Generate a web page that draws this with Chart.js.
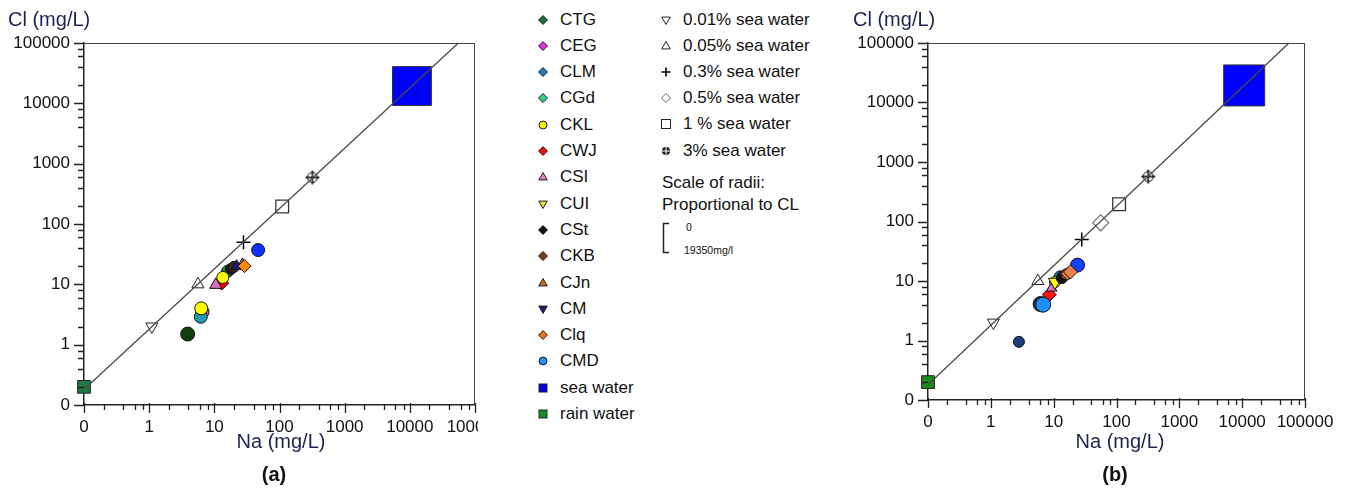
<!DOCTYPE html>
<html>
<head>
<meta charset="utf-8">
<script src="https://cdn.jsdelivr.net/npm/chart.js@4.4.1/dist/chart.umd.min.js"></script>
<style>
html,body{margin:0;padding:0;background:#fff;width:1351px;height:489px;overflow:hidden;font-family:"Liberation Sans",Arial,sans-serif;}
#wrapA{position:absolute;left:0;top:0;width:478px;height:489px;}
#wrapB{position:absolute;left:845px;top:0;width:506px;height:489px;}
.lgt{position:absolute;font-size:17px;line-height:20px;color:#111;white-space:nowrap;}
.lgs{position:absolute;}
.small{position:absolute;font-size:10.5px;line-height:12px;color:#111;white-space:nowrap;}
</style>
</head>
<body>
<div id="wrapA"><canvas id="chartA" width="478" height="489"></canvas></div>
<div id="legend"></div>
<div id="wrapB"><canvas id="chartB" width="506" height="489"></canvas></div>
<script>
// ---------------- DATA ----------------
const tickValues = [0.1, 1, 10, 100, 1000, 10000, 100000];
const tickLabels = ['0', '1', '10', '100', '1000', '10000', '100000'];
const minorTickSteps = [2, 4, 6, 8];

// sea-water mixing line (Cl/Na ~ 1.8)
const mixLineNa = [0.1, 55556];
const mixLineCl = [0.18, 100000];

// end members
const endNames = ['sea water', 'rain water'];
const endNa = [10770, 0.1];
const endCl = [19350, 0.2];

// sea-water dilutions
const refNames = ['0.01% sea water', '0.05% sea water', '0.3% sea water', '0.5% sea water', '1 % sea water', '3% sea water'];
const refNaA = [1.1, 5.6, 28, null, 110, 320];
const refClA = [2.0, 10, 50, null, 195, 590];
const refNaB = [1.1, 5.6, 28, 56, 110, 320];
const refClB = [2.0, 10, 50, 95, 195, 570];

// sample names (legend order)
const sampleNames = ['CTG', 'CEG', 'CLM', 'CGd', 'CKL', 'CWJ', 'CSI', 'CUI', 'CSt', 'CKB', 'CJn', 'CM', 'Clq', 'CMD'];
// panel (a)
const naA = [3.9, 6.6, 6.2, 16, 6.3, 13, 10.5, 13.5, 18, 20, 27, 22, 29, 47];
const clA = [1.5, 3.5, 2.9, 16.5, 4.0, 10.5, 9.8, 13, 18, 19.5, 21, 20, 20, 37];
// panel (b)
const naB = [6.2, 24, 12.6, 14, 10.5, 8.5, 9.3, 10.5, 13.5, 16, 16.5, 2.8, 18.5, 6.8];
const clB = [4.1, 18.5, 11.7, 12, 9.6, 5.9, 7.6, 9.6, 11.2, 13, 13.2, 0.95, 14.2, 4.0];

// ---------------- STYLES ----------------
const FONT = '"Liberation Sans", Arial, sans-serif';
const legendSampleStyle = {
  CTG: {shape: 'rectRot', fill: '#1e6e3c'}, CEG: {shape: 'rectRot', fill: '#e030e0'},
  CLM: {shape: 'rectRot', fill: '#2a78b8'}, CGd: {shape: 'rectRot', fill: '#30d080'},
  CKL: {shape: 'circle', fill: '#f0f000'}, CWJ: {shape: 'rectRot', fill: '#e01010'},
  CSI: {shape: 'triangle', fill: '#e080c0'}, CUI: {shape: 'triangleDown', fill: '#e8e040'},
  CSt: {shape: 'rectRot', fill: '#101010'}, CKB: {shape: 'rectRot', fill: '#7a3a10'},
  CJn: {shape: 'triangle', fill: '#c86a30'}, CM: {shape: 'triangleDown', fill: '#301070'},
  Clq: {shape: 'rectRot', fill: '#e87020'}, CMD: {shape: 'circle', fill: '#1e90ff'}
};
const styleA = {
  CTG: ['circle', '#0d400d', 7], CEG: ['circle', '#e040e0', 6.5], CLM: ['circle', '#1f9aa8', 6.5],
  CGd: ['circle', '#2e8b3a', 6], CKL: ['circle', '#ffff00', 6.5], CWJ: ['rectRot', '#ff0000', 7],
  CSI: ['triangle', '#d070c0', 7], CUI: ['circle', '#ffff00', 6], CSt: ['circle', '#1a1a1a', 5.5],
  CKB: ['circle', '#3a2a10', 5.5], CJn: ['triangle', '#d07030', 7], CM: ['triangle', '#1a1a80', 6.5],
  Clq: ['rectRot', '#ff8c00', 6.5], CMD: ['circle', '#1030ff', 6.5]
};
const styleB = {
  CTG: ['circle', '#10304a', 7.5], CEG: ['circle', '#1040ff', 7], CLM: ['circle', '#1a7aa0', 6],
  CGd: ['circle', '#2a6a8a', 5.5], CKL: ['circle', '#ffff00', 5.5], CWJ: ['rectRot', '#ff1010', 7],
  CSI: ['triangle', '#e070c0', 6], CUI: ['triangleDown', '#ffff00', 7.5], CSt: ['circle', '#111111', 5.5],
  CKB: ['circle', '#d07040', 5.5], CJn: ['rectRot', '#e07040', 6.5], CM: ['circle', '#1a3f7a', 5.5],
  Clq: ['rectRot', '#f08050', 7], CMD: ['circle', '#1e90ff', 7.5]
};

function circlePlusImg(r, arm) {
  const c = document.createElement('canvas');
  const s = Math.ceil(2 * arm + 4);
  c.width = c.height = s;
  const g = c.getContext('2d');
  const m = s / 2;
  g.strokeStyle = '#000'; g.lineWidth = 1; g.fillStyle = '#fff';
  g.beginPath(); g.arc(m, m, r, 0, 2 * Math.PI); g.fill(); g.stroke();
  g.lineWidth = 1.4;
  g.beginPath(); g.moveTo(m - arm, m); g.lineTo(m + arm, m); g.moveTo(m, m - arm); g.lineTo(m, m + arm); g.stroke();
  return c;
}

const refStyle = [
  {pointStyle: 'triangle', rotation: 180, radius: 7, bg: 'rgba(255,255,255,0.9)', border: '#222', bw: 1},
  {pointStyle: 'triangle', rotation: 0, radius: 7, bg: 'rgba(255,255,255,0.9)', border: '#222', bw: 1},
  {pointStyle: 'cross', rotation: 0, radius: 7, bg: '#000', border: '#000', bw: 1.5},
  {pointStyle: 'rectRot', rotation: 0, radius: 8, bg: 'rgba(255,255,255,0.9)', border: '#888', bw: 1.5},
  {pointStyle: 'rect', rotation: 0, radius: 9, bg: 'rgba(255,255,255,0.9)', border: '#333', bw: 1.3},
  {pointStyle: circlePlusImg(5, 7), rotation: 0, radius: 7, bg: '#fff', border: '#000', bw: 1}
];
const endStyleA = [
  {pointStyle: 'rect', radius: 27.5, bg: '#0000ff', border: '#333', bw: 1},
  {pointStyle: 'rect', radius: 9, bg: '#1f7a3f', border: '#222', bw: 1}
];
const endStyleB = [
  {pointStyle: 'rect', radius: 29, bg: '#0000ff', border: '#333', bw: 1},
  {pointStyle: 'rect', radius: 9, bg: '#1a8a1a', border: '#222', bw: 1}
];

// ---------------- CHART BUILDER ----------------
function buildPanel(canvasId, geo, na, cl, sStyle, refNa, refCl, endStyle, titleText, panelTag) {
  const datasets = [];
  datasets.push({
    type: 'line', label: 'mix', order: 0,
    data: mixLineNa.map((x, i) => ({x: x, y: mixLineCl[i]})),
    borderColor: '#4a4a4a', borderWidth: 1.3, pointRadius: 0, fill: false, clip: false
  });
  const pts = [];
  endNames.forEach((n, i) => {
    const st = endStyle[i];
    pts.push({label: n, data: [{x: endNa[i], y: endCl[i]}], pointStyle: st.pointStyle,
      pointRadius: st.radius, backgroundColor: st.bg, borderColor: st.border, pointBorderWidth: st.bw});
  });
  refNames.forEach((n, i) => {
    if (refNa[i] == null) return;
    const st = refStyle[i];
    pts.push({label: n, data: [{x: refNa[i], y: refCl[i]}], pointStyle: st.pointStyle, rotation: st.rotation,
      pointRadius: st.radius, backgroundColor: st.bg, borderColor: st.border, pointBorderWidth: st.bw});
  });
  sampleNames.forEach((n, i) => {
    const s = sStyle[n];
    let ps = s[0], rot = 0;
    if (ps === 'triangleDown') { ps = 'triangle'; rot = 180; }
    pts.push({label: n, data: [{x: na[i], y: cl[i]}], pointStyle: ps, rotation: rot,
      pointRadius: s[2], backgroundColor: s[1], borderColor: '#111', pointBorderWidth: 1});
  });
  pts.forEach((d, i) => {
    d.type = 'scatter'; d.order = pts.length - i + 1; d.clip = false;
    d.pointHoverRadius = d.pointRadius;
    datasets.push(d);
  });

  const tickFont = {family: FONT, size: 17};
  const framePlugin = {
    id: 'frame' + panelTag,
    afterDraw(chart) {
      const ctx = chart.ctx, a = chart.chartArea;
      const xs = chart.scales.x, ys = chart.scales.y;
      ctx.save();
      ctx.strokeStyle = '#444'; ctx.lineWidth = 1;
      ctx.beginPath();
      ctx.moveTo(a.left, a.top + 0.5); ctx.lineTo(a.right, a.top + 0.5);
      ctx.moveTo(a.right - 0.5, a.top); ctx.lineTo(a.right - 0.5, a.bottom);
      ctx.stroke();
      ctx.strokeStyle = '#222'; ctx.lineWidth = 1.3;
      ctx.beginPath();
      for (let k = 0; k < tickValues.length; k++) {
        const v = tickValues[k];
        const yp = Math.round(ys.getPixelForValue(v)) + 0.5;
        ctx.moveTo(a.left - 10, yp); ctx.lineTo(a.left, yp);
        const xp = Math.round(xs.getPixelForValue(v)) + 0.5;
        ctx.moveTo(xp, a.bottom - 2); ctx.lineTo(xp, a.bottom + 8);
        if (k < tickValues.length - 1) {
          minorTickSteps.forEach(m => {
            const y2 = Math.round(ys.getPixelForValue(v * m)) + 0.5;
            ctx.moveTo(a.left - 6, y2); ctx.lineTo(a.left, y2);
            const x2 = Math.round(xs.getPixelForValue(v * m)) + 0.5;
            ctx.moveTo(x2, a.bottom); ctx.lineTo(x2, a.bottom + 5);
          });
        }
      }
      ctx.stroke();
      ctx.fillStyle = '#1e2450';
      ctx.font = '20px ' + FONT;
      ctx.textBaseline = 'middle';
      ctx.textAlign = 'left';
      ctx.fillText(titleText.y, geo.yTitleX, 20);
      ctx.textAlign = 'center';
      ctx.fillText(titleText.x, geo.xTitleX, 442);
      ctx.fillStyle = '#111';
      ctx.font = 'bold 20px ' + FONT;
      ctx.fillText(titleText.tag, geo.tagX, 475);
      ctx.restore();
    }
  };

  return new Chart(document.getElementById(canvasId), {
    type: 'scatter',
    data: {datasets: datasets},
    options: {
      responsive: false, animation: false, events: [], devicePixelRatio: 1,
      layout: {autoPadding: false, padding: {left: 0, top: geo.padTop, right: geo.padRight, bottom: 0}},
      plugins: {legend: {display: false}, tooltip: {enabled: false}},
      scales: {
        x: {
          type: 'logarithmic', position: 'bottom', min: 0.1, max: 100000,
          afterBuildTicks: s => { s.ticks = tickValues.map(v => ({value: v})); },
          afterFit: s => { s.height = geo.xHeight; s.paddingLeft = 0; s.paddingRight = 0; },
          ticks: {autoSkip: false, maxRotation: 0, minRotation: 0, padding: 12, color: '#111', font: tickFont,
            callback: v => tickLabels[tickValues.indexOf(v)]},
          grid: {display: false, drawTicks: false},
          border: {display: true, color: '#222', width: 1.5}
        },
        y: {
          type: 'logarithmic', position: 'left', min: 0.1, max: 100000,
          afterBuildTicks: s => { s.ticks = tickValues.map(v => ({value: v})); },
          afterFit: s => { s.width = geo.yWidth; s.paddingTop = 0; s.paddingBottom = 0; },
          ticks: {autoSkip: false, padding: 14, color: '#111', font: tickFont,
            callback: v => tickLabels[tickValues.indexOf(v)]},
          grid: {display: false, drawTicks: false},
          border: {display: true, color: '#222', width: 1.5}
        }
      }
    },
    plugins: [framePlugin]
  });
}

buildPanel('chartA', {padTop: 43, padRight: 3, xHeight: 84, yWidth: 84, yTitleX: 8, xTitleX: 281, tagX: 274},
  naA, clA, styleA, refNaA, refClA, endStyleA, {y: 'Cl (mg/L)', x: 'Na (mg/L)', tag: '(a)'}, 'A');
buildPanel('chartB', {padTop: 43, padRight: 46, xHeight: 89, yWidth: 83, yTitleX: 8, xTitleX: 275, tagX: 270},
  naB, clB, styleB, refNaB, refClB, endStyleB, {y: 'Cl (mg/L)', x: 'Na (mg/L)', tag: '(b)'}, 'B');

// ---------------- LEGEND (HTML) ----------------
function markerSVG(shape, fill, stroke, r) {
  const c = 8;
  let body = '';
  const sw = 'stroke="' + stroke + '" stroke-width="1"';
  if (shape === 'circle') body = `<circle cx="${c}" cy="${c}" r="${r}" fill="${fill}" ${sw}/>`;
  else if (shape === 'rectRot') body = `<polygon points="${c},${c - r} ${c + r},${c} ${c},${c + r} ${c - r},${c}" fill="${fill}" ${sw}/>`;
  else if (shape === 'rect') body = `<rect x="${c - r}" y="${c - r}" width="${2 * r}" height="${2 * r}" fill="${fill}" ${sw}/>`;
  else if (shape === 'triangle') body = `<polygon points="${c},${c - r} ${c + r * 0.95},${c + r * 0.65} ${c - r * 0.95},${c + r * 0.65}" fill="${fill}" ${sw}/>`;
  else if (shape === 'triangleDown') body = `<polygon points="${c},${c + r} ${c + r * 0.95},${c - r * 0.65} ${c - r * 0.95},${c - r * 0.65}" fill="${fill}" ${sw}/>`;
  else if (shape === 'cross') body = `<path d="M${c - r} ${c}H${c + r}M${c} ${c - r}V${c + r}" stroke="${stroke}" stroke-width="1.6"/>`;
  else if (shape === 'circlePlus') body = `<circle cx="${c}" cy="${c}" r="${r * 0.75}" fill="#222" stroke="#222"/><path d="M${c - r} ${c}H${c + r}M${c} ${c - r}V${c + r}" stroke="#fff" stroke-width="1"/>`;
  return `<svg width="16" height="16" viewBox="0 0 16 16">${body}</svg>`;
}
const legendEl = document.getElementById('legend');
function addItem(mx, tx, y, svg, text) {
  const s = document.createElement('div');
  s.className = 'lgs'; s.style.left = (mx - 8) + 'px'; s.style.top = (y - 8) + 'px';
  s.innerHTML = svg; legendEl.appendChild(s);
  const t = document.createElement('div');
  t.className = 'lgt'; t.style.left = tx + 'px'; t.style.top = (y - 10) + 'px';
  t.textContent = text; legendEl.appendChild(t);
}
const col1 = sampleNames.concat(endNames);
col1.forEach((n, i) => {
  const y = 19.5 + i * 26.3;
  let svg;
  if (n === 'sea water') svg = markerSVG('rect', '#0000e0', '#222', 4);
  else if (n === 'rain water') svg = markerSVG('rect', '#1a8a2a', '#222', 4);
  else {
    const st = legendSampleStyle[n];
    svg = markerSVG(st.shape, st.fill, '#222', st.shape === 'circle' ? 4 : 4.5);
  }
  addItem(543, 560, y, svg, n);
});
const refLegendShapes = [['triangleDown', '#fff', '#222', 4.5], ['triangle', '#fff', '#222', 4.5], ['cross', '#000', '#000', 4.5],
  ['rectRot', '#fff', '#666', 4.5], ['rect', '#fff', '#222', 4.5], ['circlePlus', '#222', '#222', 5]];
refNames.forEach((n, i) => {
  const y = 19.5 + i * 26.2;
  const st = refLegendShapes[i];
  addItem(666, 683, y, markerSVG(st[0], st[1], st[2], st[3]), n);
});
function addText(x, y, text, cls) {
  const t = document.createElement('div');
  t.className = cls; t.style.left = x + 'px'; t.style.top = y + 'px'; t.textContent = text;
  legendEl.appendChild(t);
}
addText(662, 173, 'Scale of radii:', 'lgt');
addText(662, 195, 'Proportional to CL', 'lgt');
addText(686, 221, '0', 'small');
addText(684, 244, '19350mg/l', 'small');
const br = document.createElement('div');
br.className = 'lgs'; br.style.left = '660px'; br.style.top = '220px';
br.innerHTML = '<svg width="12" height="36"><path d="M9 3.5H3.5V32.5H9" fill="none" stroke="#222" stroke-width="1.5"/></svg>';
legendEl.appendChild(br);
</script>
</body>
</html>
